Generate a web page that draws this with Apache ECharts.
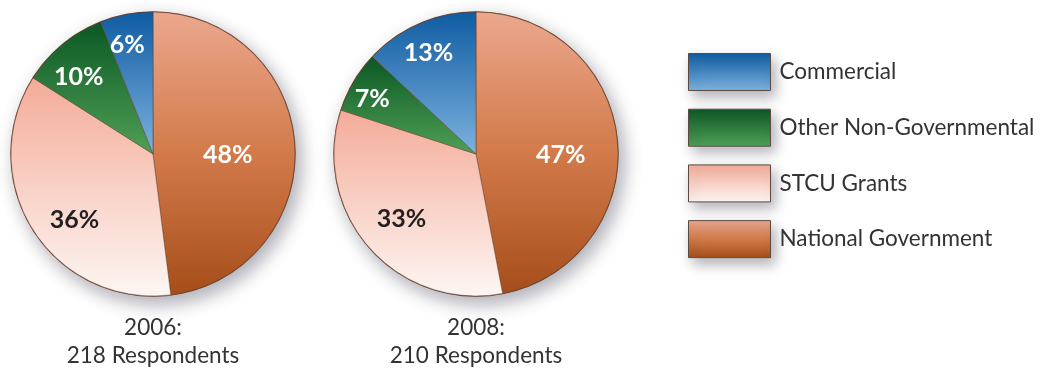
<!DOCTYPE html>
<html>
<head>
<meta charset="utf-8">
<script src="https://cdn.jsdelivr.net/npm/echarts@6/dist/echarts.min.js"></script>
<style>
  html, body { margin: 0; padding: 0; background: #ffffff; }
  #chart { width: 1043px; height: 372px; }
</style>
</head>
<body>
<div id="chart"></div>
<script>
// Funding sources, in slice order (clockwise from 12 o'clock)
const categories = ['National Government', 'STCU Grants', 'Other Non-Governmental', 'Commercial'];
const share2006 = [48, 36, 10, 6];
const share2008 = [47, 33, 7, 13];
const years = ['2006', '2008'];
const respondents = [218, 210];
const legendOrder = ['Commercial', 'Other Non-Governmental', 'STCU Grants', 'National Government'];

const FONT = 'Lato, "Open Sans", sans-serif';

function vgrad(top, bottom, mid) {
  const stops = [{ offset: 0, color: top }];
  if (mid) stops.push({ offset: 0.5, color: mid });
  stops.push({ offset: 1, color: bottom });
  return new echarts.graphic.LinearGradient(0, 0, 0, 1, stops);
}

const sliceStyle = {
  'National Government': { fill: () => vgrad('#eba88e', '#a64e1a', '#d27a4a'), text: '#ffffff' },
  'STCU Grants': { fill: () => vgrad('#f4ab98', '#fdf6f3'), text: '#231f20' },
  'Other Non-Governmental': { fill: () => vgrad('#0c5724', '#4fa056'), text: '#ffffff' },
  'Commercial': { fill: () => vgrad('#0f5ca2', '#7db2de'), text: '#ffffff' }
};

// label nudges per pie (pixels from the default inside position)
const labelNudge = [
  [[1, 6], [-16, 26], [-27, -20], [-12, -36]],
  [[11, 8], [-19, 16], [-40, -17], [-18, -33]]
];

const centers = [[153, 154], [476, 154]];
const R = 142;

function pieData(values, p) {
  return categories.map((name, i) => ({
    name: name,
    value: values[i],
    itemStyle: { color: sliceStyle[name].fill() },
    label: { color: sliceStyle[name].text, offset: labelNudge[p][i] }
  }));
}

const series = [];
[share2006, share2008].forEach((values, p) => {
  // backdrop disc carrying the drop shadow and outer rim
  series.push({
    type: 'pie',
    silent: true,
    center: centers[p],
    radius: R,
    z: 1,
    label: { show: false },
    labelLine: { show: false },
    itemStyle: {
      color: '#ffffff',
      borderColor: '#6e4632',
      borderWidth: 1.4,
      shadowBlur: 18,
      shadowOffsetX: 5,
      shadowOffsetY: 7,
      shadowColor: 'rgba(40,40,60,0.38)'
    },
    data: [{ name: 'rim', value: values.reduce((a, b) => a + b, 0) }]
  });
  series.push({
    type: 'pie',
    name: years[p],
    center: centers[p],
    radius: R,
    startAngle: 90,
    clockwise: true,
    z: 2,
    avoidLabelOverlap: false,
    label: {
      show: true,
      position: 'inside',
      formatter: '{c}%',
      fontFamily: FONT,
      fontSize: 25,
      fontWeight: 'bold'
    },
    labelLine: { show: false },
    itemStyle: { borderColor: 'rgba(100,60,40,0.65)', borderWidth: 0.8 },
    emphasis: { disabled: true },
    data: pieData(values, p)
  });
});

const chart = echarts.init(document.getElementById('chart'), null, { renderer: 'canvas' });
chart.setOption({
  backgroundColor: '#ffffff',
  animation: false,
  title: years.map((y, p) => ({
    text: y + ':\n' + respondents[p] + ' Respondents',
    left: centers[p][0],
    top: 314,
    padding: 0,
    textAlign: 'center',
    textStyle: { fontFamily: FONT, fontSize: 22.5, fontWeight: 'normal', color: '#333333', lineHeight: 28 }
  })),
  legend: {
    orient: 'vertical',
    left: 683,
    top: 48,
    itemWidth: 82,
    itemHeight: 37,
    itemGap: 17.7,
    icon: 'rect',
    selectedMode: false,
    data: legendOrder,
    textStyle: { fontFamily: FONT, fontSize: 22.5, color: '#333333', padding: [0, 0, 0, 4] },
    itemStyle: {
      borderColor: '#5a4a44',
      borderWidth: 1,
      shadowBlur: 12,
      shadowOffsetX: 4,
      shadowOffsetY: 6,
      shadowColor: 'rgba(40,40,60,0.35)'
    }
  },
  series: series
});
</script>
</body>
</html>
